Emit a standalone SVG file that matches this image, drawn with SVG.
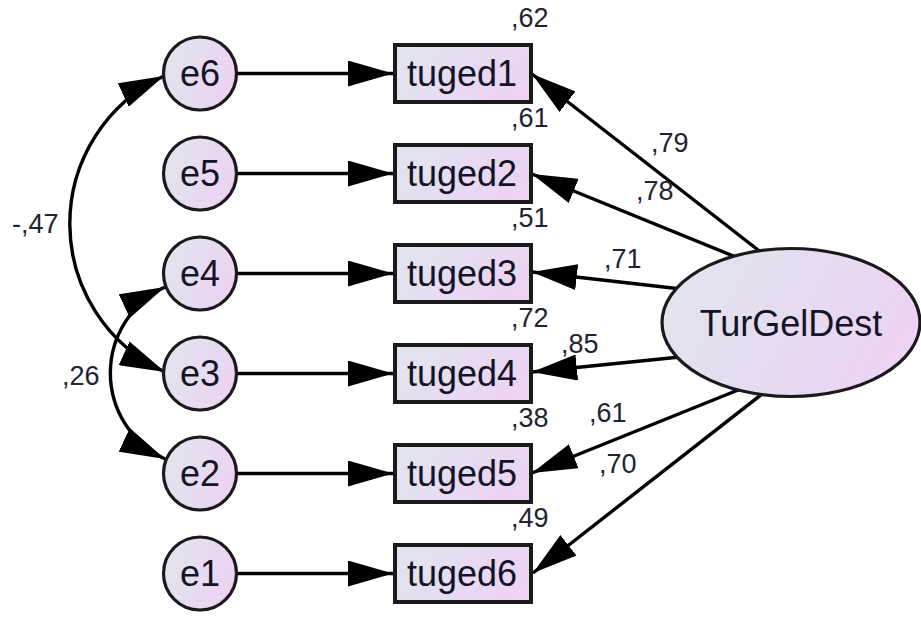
<svg xmlns="http://www.w3.org/2000/svg" width="921" height="617" viewBox="0 0 921 617">
<style>
.bg{fill:#ffffff}
.obs{fill:url(#g);stroke:#1a1a1a;stroke-width:4}
.err{fill:url(#g);stroke:#1a1a1a;stroke-width:3.2}
.lat{fill:url(#g);stroke:#1a1a1a;stroke-width:3.2}
.nt{font-family:"Liberation Sans",Arial,sans-serif;font-size:36px;fill:#141428;text-anchor:middle}
.lb{font-family:"Liberation Sans",Arial,sans-serif;font-size:27px;fill:#222233}
.ln{fill:none;stroke:#000;stroke-width:3.4}
.a1{marker-end:url(#ah)}
.a2{marker-end:url(#ah);marker-start:url(#ah)}
</style>
<defs>
<linearGradient id="g" x1="0" y1="0" x2="1" y2="0.35">
<stop offset="0" stop-color="#e0e6ee"/>
<stop offset="1" stop-color="#ecd4f2"/>
</linearGradient>
<marker id="ah" markerUnits="userSpaceOnUse" markerWidth="46" markerHeight="26" refX="45" refY="13" orient="auto-start-reverse" viewBox="0 0 46 26">
<path d="M0,0 L45,13 L0,26 z" fill="#000"/>
</marker>
</defs>
<rect class="bg" x="0" y="0" width="921" height="617"/>
<g id="connectors">
<line class="ln a1" x1="237" y1="73.5" x2="393" y2="73.5"/>
<line class="ln a1" x1="237" y1="173.5" x2="393" y2="173.5"/>
<line class="ln a1" x1="237" y1="273.5" x2="393" y2="273.5"/>
<line class="ln a1" x1="237" y1="373.5" x2="393" y2="373.5"/>
<line class="ln a1" x1="237" y1="473.5" x2="393" y2="473.5"/>
<line class="ln a1" x1="237" y1="573.5" x2="393" y2="573.5"/>
<path class="ln a1" d="M780,267 L532,74"/>
<path class="ln a1" d="M753,264 L532,174"/>
<path class="ln a1" d="M690,290 L532,272"/>
<path class="ln a1" d="M690,356 L532,372"/>
<path class="ln a1" d="M753,384 L532,473"/>
<path class="ln a1" d="M780,380 L533,573"/>
<path class="ln a2" d="M164,76 A163,163 0 0,0 165,372"/>
<path class="ln a2" d="M165,287 A95,95 0 0,0 165,459"/>
<text class="lb" x="12" y="233">-,47</text>
<text class="lb" x="62" y="385">,26</text>
<text class="lb" x="651" y="152">,79</text>
<text class="lb" x="636" y="200">,78</text>
<text class="lb" x="604" y="268">,71</text>
<text class="lb" x="561" y="353">,85</text>
<text class="lb" x="589" y="422">,61</text>
<text class="lb" x="599" y="473">,70</text>
</g>
<g id="e6"><circle class="err" cx="200" cy="73.5" r="36.5"/><text class="nt" x="200" y="86">e6</text></g>
<g id="e5"><circle class="err" cx="200" cy="173.5" r="36.5"/><text class="nt" x="200" y="186">e5</text></g>
<g id="e4"><circle class="err" cx="200" cy="273.5" r="36.5"/><text class="nt" x="200" y="286">e4</text></g>
<g id="e3"><circle class="err" cx="200" cy="373.5" r="36.5"/><text class="nt" x="200" y="386">e3</text></g>
<g id="e2"><circle class="err" cx="200" cy="473.5" r="36.5"/><text class="nt" x="200" y="486">e2</text></g>
<g id="e1"><circle class="err" cx="200" cy="573.5" r="36.5"/><text class="nt" x="200" y="586">e1</text></g>
<g id="tuged1"><rect class="obs" x="395" y="45" width="136" height="57"/><text class="nt" x="462" y="86">tuged1</text><text class="lb" x="511" y="27">,62</text></g>
<g id="tuged2"><rect class="obs" x="395" y="145" width="136" height="57"/><text class="nt" x="462" y="186">tuged2</text><text class="lb" x="511" y="127">,61</text></g>
<g id="tuged3"><rect class="obs" x="395" y="245" width="136" height="57"/><text class="nt" x="462" y="286">tuged3</text><text class="lb" x="511" y="227">,51</text></g>
<g id="tuged4"><rect class="obs" x="395" y="345" width="136" height="57"/><text class="nt" x="462" y="386">tuged4</text><text class="lb" x="511" y="327">,72</text></g>
<g id="tuged5"><rect class="obs" x="395" y="445" width="136" height="57"/><text class="nt" x="462" y="486">tuged5</text><text class="lb" x="511" y="427">,38</text></g>
<g id="tuged6"><rect class="obs" x="395" y="545" width="136" height="57"/><text class="nt" x="462" y="586">tuged6</text><text class="lb" x="511" y="527">,49</text></g>
<g id="TurGelDest"><ellipse class="lat" cx="791" cy="322.5" rx="129" ry="74"/><text class="nt" x="791" y="335.5">TurGelDest</text></g>
</svg>
